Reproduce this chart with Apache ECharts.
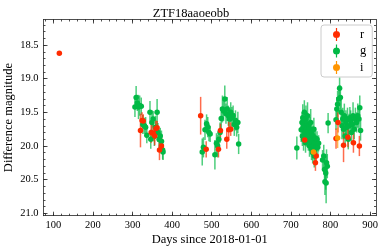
<!DOCTYPE html>
<html><head><meta charset="utf-8">
<script src="https://cdn.jsdelivr.net/npm/echarts@6/dist/echarts.min.js"></script>
<style>html,body{margin:0;padding:0;background:#fff}#c{width:382px;height:251px}</style>
</head><body><div id="c"></div>
<script>
// ---- data ----
const rDays = [115, 320, 324, 327, 347, 352, 356, 359, 362, 368, 373,
  472, 486, 517, 522, 538, 543, 548,
  735, 762, 764,
  814, 819, 833, 844, 858, 873];
const rMags = [18.62, 19.77, 19.62, 19.63, 19.80, 19.81, 19.85, 19.74, 19.73, 20.06, 20.00,
  19.55, 20.05, 20.05, 19.77, 19.90, 19.76, 19.75,
  19.91, 20.25, 20.15,
  19.89, 19.65, 19.99, 19.87, 19.95, 20.00];
const rErrs = [0.02, 0.25, 0.12, 0.10, 0.15, 0.12, 0.14, 0.12, 0.10, 0.15, 0.12,
  0.28, 0.12, 0.12, 0.10, 0.14, 0.12, 0.10,
  0.08, 0.12, 0.10,
  0.15, 0.15, 0.25, 0.15, 0.15, 0.15];

const gDays = [306, 309, 312, 315, 318, 322, 326, 330, 333, 336, 344, 346, 349, 352, 355, 358, 362, 364, 367, 370, 373, 376, 377,
  476, 479, 483, 487, 490, 493, 496, 508, 512, 515, 518, 521, 524, 527, 530, 533, 536, 539, 542, 545, 548, 551, 554, 557, 560, 563, 566, 568,
  715, 726, 728, 729, 730, 731, 732, 733, 734, 735, 736, 737, 738, 739, 740, 741, 742, 743, 744, 745, 746, 747, 748, 749, 750, 751, 752, 753, 754, 755, 756, 757, 758, 759, 760, 761, 762, 764, 766, 768, 770, 780, 783, 785, 786, 788, 789, 790, 792, 794,
  814, 816, 818, 821, 823, 825, 827, 829, 831, 833, 835, 837, 839, 841, 843, 845, 847, 849, 851, 853, 855, 857, 860, 863, 866, 869, 872, 874, 876];
const gMags = [19.42, 19.28, 19.36, 19.42, 19.40, 19.41, 19.68, 19.70, 19.72, 19.84, 19.50, 19.90, 19.65, 19.60, 19.85, 19.72, 19.50, 19.80, 19.90, 19.85, 19.93, 20.06, 20.09,
  20.09, 20.02, 19.76, 19.67, 19.72, 19.80, 19.82, 20.13, 19.96, 20.00, 19.90, 19.80, 19.59, 19.45, 19.48, 19.30, 19.52, 19.45, 19.55, 19.60, 19.50, 19.58, 19.55, 19.68, 19.62, 19.72, 19.65, 19.97,
  20.03, 19.76, 19.65, 19.85, 19.58, 19.72, 19.90, 19.62, 19.50, 19.80, 19.70, 19.95, 19.60, 19.75, 19.85, 19.68, 19.55, 19.78, 19.92, 19.70, 19.82, 20.00, 19.75, 19.88, 19.65, 19.95, 20.05, 19.80, 19.90, 20.10, 19.85, 20.00, 19.75, 20.15, 19.95, 20.05, 19.88, 20.00, 19.90, 20.02, 19.96, 20.21, 20.15, 20.35, 20.53, 20.40, 20.55, 20.25, 20.30, 19.66,
  19.61, 19.45, 19.38, 19.30, 19.14, 19.28, 19.50, 19.70, 19.60, 19.75, 19.55, 19.85, 19.65, 19.72, 19.60, 19.90, 19.70, 19.58, 19.62, 19.80, 19.68, 19.55, 19.75, 19.60, 19.65, 19.55, 19.60, 19.43, 19.77];
const gErrs = [0.15, 0.17, 0.12, 0.18, 0.15, 0.13, 0.14, 0.12, 0.15, 0.12, 0.17, 0.14, 0.18, 0.12, 0.15, 0.17, 0.20, 0.14, 0.15, 0.12, 0.16, 0.14, 0.12,
  0.20, 0.15, 0.15, 0.14, 0.15, 0.13, 0.12, 0.22, 0.15, 0.17, 0.15, 0.15, 0.17, 0.20, 0.15, 0.20, 0.15, 0.18, 0.15, 0.17, 0.15, 0.16, 0.15, 0.17, 0.15, 0.14, 0.16, 0.15,
  0.17, 0.18, 0.15, 0.15, 0.20, 0.15, 0.17, 0.16, 0.18, 0.15, 0.17, 0.15, 0.20, 0.15, 0.16, 0.18, 0.20, 0.16, 0.15, 0.17, 0.15, 0.16, 0.18, 0.15, 0.20, 0.17, 0.16, 0.15, 0.17, 0.16, 0.15, 0.15, 0.17, 0.17, 0.14, 0.15, 0.16, 0.13, 0.12, 0.12, 0.12, 0.15, 0.17, 0.20, 0.20, 0.25, 0.30, 0.20, 0.18, 0.15,
  0.15, 0.18, 0.20, 0.20, 0.16, 0.18, 0.20, 0.20, 0.17, 0.15, 0.18, 0.16, 0.18, 0.15, 0.17, 0.15, 0.18, 0.16, 0.15, 0.17, 0.15, 0.20, 0.15, 0.17, 0.15, 0.18, 0.15, 0.18, 0.15];

const iDays = [757, 818];
const iMags = [20.09, 19.88];
const iErrs = [0.05, 0.15];

const xMajorTicks = [100, 200, 300, 400, 500, 600, 700, 800, 900];
const xMinorTicks = [80, 100, 120, 140, 160, 180, 200, 220, 240, 260, 280, 300, 320, 340, 360, 380, 400, 420, 440, 460, 480, 500, 520, 540, 560, 580, 600, 620, 640, 660, 680, 700, 720, 740, 760, 780, 800, 820, 840, 860, 880, 900];
const yMajorTicks = [18.5, 19.0, 19.5, 20.0, 20.5, 21.0];
const yMinorTicks = [18.2, 18.3, 18.4, 18.5, 18.6, 18.7, 18.8, 18.9, 19.0, 19.1, 19.2, 19.3, 19.4, 19.5, 19.6, 19.7, 19.8, 19.9, 20.0, 20.1, 20.2, 20.3, 20.4, 20.5, 20.6, 20.7, 20.8, 20.9, 21.0];

const COL = { r: '#FF2C00', g: '#00B945', i: '#FF9500' };
const FONT = 'Liberation Serif';

function pts(d, m, e) { return d.map((v, k) => [v, m[k], e[k]]); }

const X_MIN = 75, X_MAX = 915, Y_MIN = 18.12, Y_MAX = 21.036;
const lineStyle = { color: '#222', width: 0.8 };

function xAx(pos, ticks, len, labels, line) {
  return {
    type: 'value', position: pos, min: X_MIN, max: X_MAX, gridIndex: 0,
    splitLine: { show: false },
    axisLine: { show: line, lineStyle: lineStyle },
    axisTick: { show: true, inside: true, length: len, customValues: ticks, lineStyle: lineStyle },
    axisLabel: labels ? { show: true, customValues: ticks, margin: 4, color: '#000', fontFamily: FONT, fontSize: 10.5 } : { show: false }
  };
}
function yAx(pos, ticks, len, labels, line) {
  return {
    type: 'value', position: pos, min: Y_MIN, max: Y_MAX, inverse: true, gridIndex: 0,
    splitLine: { show: false },
    axisLine: { show: line, lineStyle: lineStyle },
    axisTick: { show: true, inside: true, length: len, customValues: ticks, lineStyle: lineStyle },
    axisLabel: labels ? { show: true, customValues: ticks, margin: 5, color: '#000', fontFamily: FONT, fontSize: 10.5,
      formatter: v => v.toFixed(1) } : { show: false }
  };
}

const xAxes = [xAx('bottom', xMajorTicks, 4, true, true), xAx('bottom', xMinorTicks, 2, false, false),
  xAx('top', xMajorTicks, 4, false, true), xAx('top', xMinorTicks, 2, false, false)];
Object.assign(xAxes[0], { name: 'Days since 2018-01-01', nameLocation: 'middle', nameGap: 18, nameMoveOverlap: false,
  nameTextStyle: { color: '#000', fontFamily: FONT, fontSize: 12.5 } });
const yAxes = [yAx('left', yMajorTicks, 4, true, true), yAx('left', yMinorTicks, 2, false, false),
  yAx('right', yMajorTicks, 4, false, true), yAx('right', yMinorTicks, 2, false, false)];
Object.assign(yAxes[0], { name: 'Difference magnitude', nameLocation: 'middle', nameGap: 28, nameMoveOverlap: false,
  nameTextStyle: { color: '#000', fontFamily: FONT, fontSize: 12.5 } });

function errSeries(name, data, z) {
  return {
    type: 'custom', name: name, xAxisIndex: 0, yAxisIndex: 0, z: z, silent: true,
    data: data, encode: { x: 0, y: 1 },
    renderItem: function (params, api) {
      const x = api.value(0), y = api.value(1), e = api.value(2);
      const p1 = api.coord([x, y - e]), p2 = api.coord([x, y + e]);
      return { type: 'line', shape: { x1: p1[0], y1: p1[1], x2: p2[0], y2: p2[1] },
        style: { stroke: COL[name], lineWidth: 1.5, opacity: 0.7 } };
    }
  };
}
function dotSeries(name, data, z) {
  return { type: 'scatter', name: name, xAxisIndex: 0, yAxisIndex: 0, z: z, data: data,
    symbol: 'circle', symbolSize: 5.5, itemStyle: { color: COL[name], opacity: 1 },
    emphasis: { disabled: true } };
}

const rData = pts(rDays, rMags, rErrs), gData = pts(gDays, gMags, gErrs), iData = pts(iDays, iMags, iErrs);
const ICON = 'path://M2.9,0L4.1,0L4.1,13L2.9,13Z M0,6.5A3.5,3.5,0,1,1,7,6.5A3.5,3.5,0,1,1,0,6.5Z';

const chart = echarts.init(document.getElementById('c'), null, { renderer: 'canvas' });
chart.setOption({
  animation: false,
  backgroundColor: '#fff',
  title: { text: 'ZTF18aaoeobb', left: 'center', top: 2,
    textStyle: { color: '#000', fontFamily: FONT, fontSize: 12.5, fontWeight: 'normal' } },
  grid: { left: 43.5, right: 6, top: 19.5, bottom: 35.3, containLabel: false, outerBoundsMode: 'none' },
  legend: {
    orient: 'vertical', left: 321, top: 25, padding: [3, 6, 3, 12], itemWidth: 7, itemHeight: 13, itemGap: 3.5,
    borderColor: '#ccc', borderWidth: 1, borderRadius: 3, backgroundColor: 'rgba(255,255,255,0.8)',
    selectedMode: false,
    textStyle: { color: '#000', fontFamily: FONT, fontSize: 12.5, padding: [0, 0, 0, 15] },
    data: [{ name: 'r', icon: ICON }, { name: 'g', icon: ICON }, { name: 'i', icon: ICON }]
  },
  xAxis: xAxes,
  yAxis: yAxes,
  series: [
    dotSeries('r', rData, 5), dotSeries('g', gData, 4), dotSeries('i', iData, 6),
    errSeries('g', gData, 1), errSeries('r', rData, 2), errSeries('i', iData, 3)
  ]
});
</script></body></html>
